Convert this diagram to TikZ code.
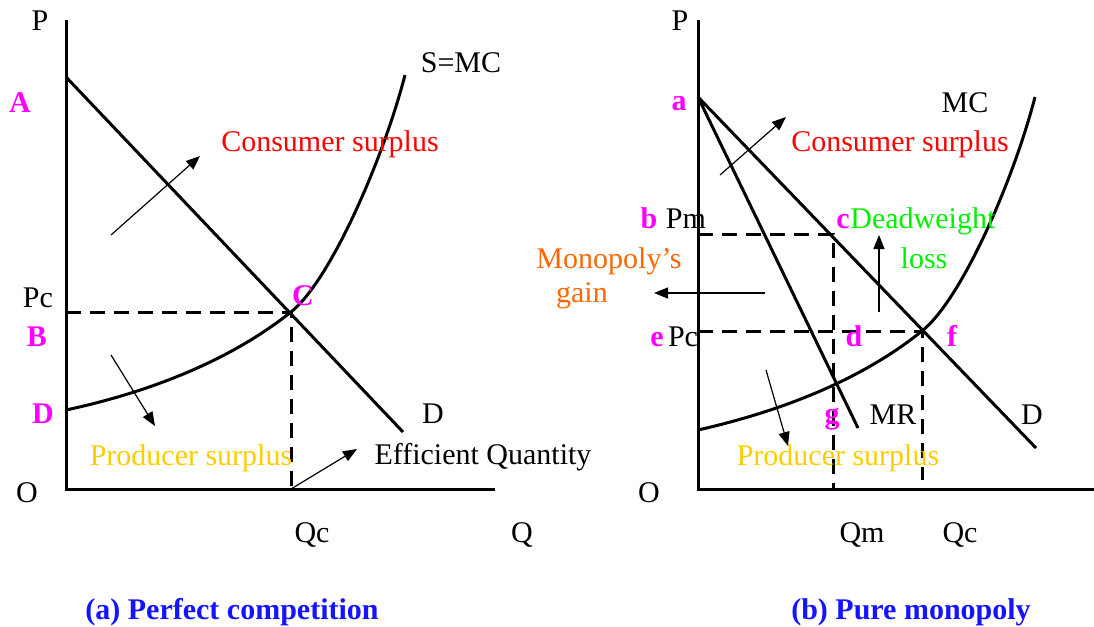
\documentclass[tikz,border=0pt]{standalone}
\usepackage{fontspec}
\setmainfont{Liberation Serif}
\usepackage{tikz}
\usetikzlibrary{arrows.meta, calc}

\definecolor{csred}{RGB}{255,0,0}
\definecolor{psgold}{RGB}{255,204,0}
\definecolor{dwgreen}{RGB}{0,240,0}
\definecolor{mgorange}{RGB}{255,102,0}
\definecolor{ptmagenta}{RGB}{255,0,255}
\definecolor{ttblue}{RGB}{20,20,255}

\begin{document}
\begin{tikzpicture}[
  x=0.5pt, y=-0.5pt,
  every node/.style={font=\fontsize{15}{18}\selectfont, inner sep=0pt, anchor=base},
  axis/.style={line width=1.5pt},
  curve/.style={line width=1.5pt},
  guide/.style={line width=1.5pt, dash pattern=on 7.5pt off 4.5pt},
  arrow/.style={-{Triangle[length=7pt,width=5.5pt]}, line width=0.6pt},
  ptlabel/.style={text=ptmagenta, font=\fontsize{15}{18}\selectfont\bfseries},
  paneltitle/.style={text=ttblue, font=\fontsize{15}{18}\selectfont\bfseries}
]
\useasboundingbox (0,0) rectangle (1094,627);

% Panel (a): perfect competition
\coordinate (aTop) at (66,20);
\coordinate (aO) at (66,489);
\coordinate (aEnd) at (495,489);
\coordinate (aDtop) at (66,77);
\coordinate (aDend) at (403,432);
\coordinate (aSstart) at (66,410);
\coordinate (aStop) at (405,75);
\coordinate (aC) at (291,312);
\coordinate (aPc) at (66,312);
\coordinate (aQc) at (291,489);

\draw[axis] (aTop) -- (aO) -- (aEnd);
\draw[curve] (aDtop) -- (aDend);
\draw[curve] (aSstart) .. controls (150,392) and (230,360.5) .. (aC)
  .. controls (330,281) and (383,160) .. (aStop);
\draw[guide] (aPc) -- (aC) -- (aQc);

\node (aP) at (40,30) {P};
\node (aO0) at (27,502) {O};
\node (aPcl) at (38,307) {Pc};
\node (aQcl) at (312,542) {Qc};
\node (aQl) at (522,542) {Q};
\node (aSMC) at (461,72) {S=MC};
\node (aDl) at (433,423) {D};
\node[ptlabel] (aA) at (20,112) {A};
\node[ptlabel] (aB) at (37,346) {B};
\node[ptlabel] (aCl) at (303,305) {C};
\node[ptlabel] (aDp) at (43,423) {D};

\node[text=csred] (aCS) at (330,151) {Consumer surplus};
\node[text=psgold] (aPS) at (191,465) {Producer surplus};
\node (aEQ) at (483,464) {Efficient Quantity};

\coordinate (aCSa) at (111,235);
\coordinate (aCSb) at (200,156);
\coordinate (aPSa) at (111,355);
\coordinate (aPSb) at (155,426);
\coordinate (aEQb) at (357,449);
\draw[arrow] (aCSa) -- (aCSb);
\draw[arrow] (aPSa) -- (aPSb);
\draw[arrow] (aQc) -- (aEQb);

\node[paneltitle] (aTitle) at (232,619) {(a) Perfect competition};

% Panel (b): pure monopoly
\coordinate (bTop) at (698,20);
\coordinate (bO) at (698,489);
\coordinate (bEnd) at (1094,489);
\coordinate (bA) at (698,97);
\coordinate (bDend) at (1036,448);
\coordinate (bMRend) at (858,428);
\coordinate (bSstart) at (698,430);
\coordinate (bStop) at (1035,97);
\coordinate (bF) at (922,331);
\coordinate (bE) at (698,331);
\coordinate (bB) at (698,234);
\coordinate (bC) at (833,234);
\coordinate (bQm) at (833,489);
\coordinate (bQc) at (922,480);

\draw[axis] (bTop) -- (bO) -- (bEnd);
\draw[curve] (bA) -- (bDend);
\draw[curve] (bA) -- (bMRend);
\draw[curve] (bSstart) .. controls (782,411) and (862,379.5) .. (bF)
  .. controls (961,300) and (1013,182) .. (bStop);
\draw[guide] (bB) -- (bC) -- (bQm);
\draw[guide] (bE) -- (bF) -- (bQc);

\node (bP) at (680,30) {P};
\node (bO0) at (649,502) {O};
\node (bPm) at (686,228) {Pm};
\node (bPcl) at (683,346) {Pc};
\node (bQml) at (862,542) {Qm};
\node (bQcl) at (960,542) {Qc};
\node (bMC) at (965,112) {MC};
\node (bMR) at (893,424) {MR};
\node (bDl) at (1032,424) {D};
\node[ptlabel] (bal) at (679,110) {a};
\node[ptlabel] (bbl) at (649,228) {b};
\node[ptlabel] (bcl) at (843,228) {c};
\node[ptlabel] (bdl) at (854,346) {d};
\node[ptlabel] (bel) at (657,346) {e};
\node[ptlabel] (bfl) at (952,346) {f};
\node[ptlabel] (bgl) at (832,423) {g};

\node[text=csred] (bCS) at (900,151) {Consumer surplus};
\node[text=dwgreen, anchor=base west] (bDW) at (850,228) {Deadweight};
\node[text=dwgreen] (bLoss) at (924,268) {loss};
\node[text=mgorange] (bMG) at (609,268) {Monopoly’s};
\node[text=mgorange] (bGain) at (582,302) {gain};
\node[text=psgold] (bPS) at (838,465) {Producer surplus};

\coordinate (bCSa) at (720,175);
\coordinate (bCSb) at (786,117);
\coordinate (bMGa) at (765,293);
\coordinate (bMGb) at (654,293);
\coordinate (bDWa) at (879,312);
\coordinate (bDWb) at (879,235);
\coordinate (bPSa) at (766,370);
\coordinate (bPSb) at (788,446);
\draw[arrow] (bCSa) -- (bCSb);
\draw[arrow] (bMGa) -- (bMGb);
\draw[arrow] (bDWa) -- (bDWb);
\draw[arrow] (bPSa) -- (bPSb);

\node[paneltitle] (bTitle) at (911,619) {(b) Pure monopoly};

\end{tikzpicture}
\end{document}
